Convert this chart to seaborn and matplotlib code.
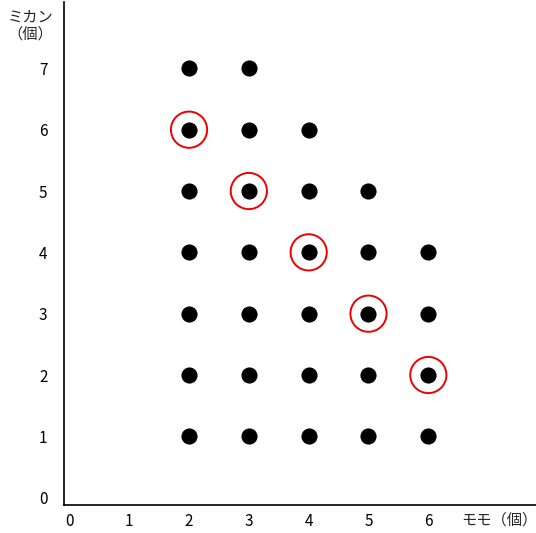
import pandas as pd
import matplotlib
matplotlib.use("Agg")
import matplotlib.pyplot as plt
import seaborn as sns

# データ（モモの個数, ミカンの個数）
momo = [2, 2, 2, 2, 2, 2, 2,
        3, 3, 3, 3, 3, 3, 3,
        4, 4, 4, 4, 4, 4,
        5, 5, 5, 5, 5,
        6, 6, 6, 6]
mikan = [1, 2, 3, 4, 5, 6, 7,
         1, 2, 3, 4, 5, 6, 7,
         1, 2, 3, 4, 5, 6,
         1, 2, 3, 4, 5,
         1, 2, 3, 4]
# 赤丸で囲まれた点
circ_momo = [2, 3, 4, 5, 6]
circ_mikan = [6, 5, 4, 3, 2]

x_ticks = [0, 1, 2, 3, 4, 5, 6]
y_ticks = [0, 1, 2, 3, 4, 5, 6, 7]

sns.set_style("white")
plt.rcParams['font.family'] = ['Noto Sans CJK JP', 'DejaVu Sans']

df = pd.DataFrame({"momo": momo, "mikan": mikan})
df_c = pd.DataFrame({"momo": circ_momo, "mikan": circ_mikan})

fig = plt.figure(figsize=(5.36, 5.33), dpi=100)
ax = fig.add_axes([0.1194, 0.0525, 0.8806, 0.9435])

sns.scatterplot(data=df, x="momo", y="mikan", s=135, color="black",
                edgecolor="black", linewidth=0, ax=ax, zorder=3)
sns.scatterplot(data=df_c, x="momo", y="mikan", s=680, facecolor="none",
                edgecolor="#ee0000", linewidth=1.4, ax=ax, zorder=4)

ax.set_xlim(-0.09, 7.8)
ax.set_ylim(-0.12, 8.08)
ax.set_xticks(x_ticks)
ax.set_yticks(y_ticks)
ax.tick_params(axis="both", length=0, labelsize=11, colors="black")
ax.tick_params(axis="x", pad=6)
ax.tick_params(axis="y", pad=12)
ax.set_xlabel("")
ax.set_ylabel("")

sns.despine(ax=ax)
for sp in ["left", "bottom"]:
    ax.spines[sp].set_color("black")
    ax.spines[sp].set_linewidth(1.2)

fig.text(461 / 536, 1 - 520 / 533, "モモ（個）", fontsize=11, va="center", ha="left")
fig.text(30 / 536, 1 - 26 / 533, "ミカン\n（個）", fontsize=11, va="center",
         ha="center", linespacing=1.0)

plt.savefig("out.png", dpi=100)
